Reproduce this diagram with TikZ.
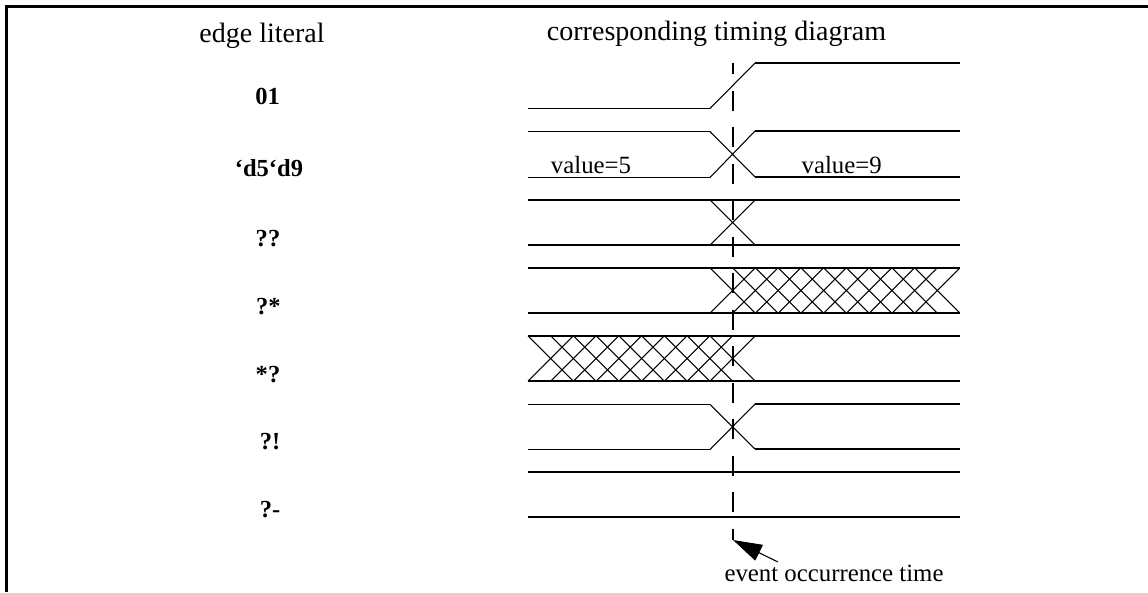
\documentclass[tikz,border=0pt]{standalone}
\usepackage{fontspec}
\setmainfont{Liberation Serif}
\usetikzlibrary{arrows.meta}
\tikzset{
  frameline/.style={line width=2.25pt},
  level/.style={line width=1.5pt},
  thinlevel/.style={line width=1.05pt},
  edgeline/.style={line width=0.8pt},
  hatch/.style={line width=0.8pt},
  marker/.style={line width=1.5pt,dash pattern=on 15pt off 12.4pt,dash phase=6.75pt},
  pointer/.style={line width=0.8pt,-{Triangle[length=21.8pt,width=13pt]}},
  head/.style={inner sep=0pt,anchor=base,font=\fontsize{21pt}{24pt}\selectfont},
  txt/.style={inner sep=0pt,anchor=base,font=\fontsize{18.6pt}{22pt}\selectfont},
  lit/.style={inner sep=0pt,anchor=base,font=\fontsize{18.4pt}{22pt}\selectfont\bfseries},
}
\begin{document}
\begin{tikzpicture}[x=0.75pt,y=-0.75pt]
\useasboundingbox (0,0) rectangle (1148,592);
\fill[white] (0,0) rectangle (1148,592);
\draw[frameline] (6.5,592) -- (6.5,6.5) -- (1148,6.5);
\node[head] (h1) at (262,42.7) {edge literal};
\node[head] (h2) at (716.5,40.7) {corresponding timing diagram};
\node[lit] (l1) at (267.7,104) {01};
\node[lit] (l2) at (269,176.7) {‘d5‘d9};
\node[lit] (l3) at (268,246) {??};
\node[lit] (l4) at (268.3,314) {?*};
\node[lit] (l5) at (268,382) {*?};
\node[lit] (l6) at (270,449) {?!};
\node[lit] (l7) at (270,517) {?-};
\node[txt] (v5) at (591,173) {value=5};
\node[txt] (v9) at (841.7,173) {value=9};
% row 1
\draw[thinlevel] (528,108.5) -- (710,108.5);
\draw[edgeline] (710,108.5) -- (755,63);
\draw[level] (755,63) -- (960,63);
% row 2
\draw[thinlevel] (528,131.5) -- (710,131.5);
\draw[thinlevel] (528,177.5) -- (710,177.5);
\draw[edgeline] (710,131.5) -- (755,177) (710,177.5) -- (755,131);
\draw[level] (755,131) -- (960,131);
\draw[level] (755,177) -- (960,177);
% row 3
\draw[level] (528,200) -- (960,200);
\draw[level] (528,245) -- (960,245);
\draw[edgeline] (710,200) -- (755,245) (710,245) -- (755,200);
% row 4
\draw[level] (528,268) -- (960,268);
\draw[level] (528,313) -- (960,313);
\foreach \k in {0,...,9}{
  \draw[hatch] ({710+22.75*\k},268) -- ({755+22.75*\k},313);
  \draw[hatch] ({710+22.75*\k},313) -- ({755+22.75*\k},268);
}
% row 5
\draw[level] (528,336) -- (960,336);
\draw[level] (528,381) -- (960,381);
\foreach \k in {0,...,8}{
  \draw[hatch] ({528+22.75*\k},336) -- ({573+22.75*\k},381);
  \draw[hatch] ({528+22.75*\k},381) -- ({573+22.75*\k},336);
}
% row 6
\draw[thinlevel] (528,404.5) -- (710,404.5);
\draw[thinlevel] (528,449.5) -- (710,449.5);
\draw[edgeline] (710,404.5) -- (755,449) (710,449.5) -- (755,404);
\draw[level] (755,404) -- (960,404);
\draw[level] (755,449) -- (960,449);
% row 7
\draw[level] (528,472) -- (960,472);
\draw[level] (528,517) -- (960,517);
% marker
\coordinate (mb) at (733,540);
\coordinate (mt) at (733,63);
\draw[marker] (mb) -- (mt);
\node[txt] (ev) at (834,581) {event occurrence time};
\coordinate (pt) at (778,562);
\draw[pointer] (pt) -- (mb);
\end{tikzpicture}
\end{document}
